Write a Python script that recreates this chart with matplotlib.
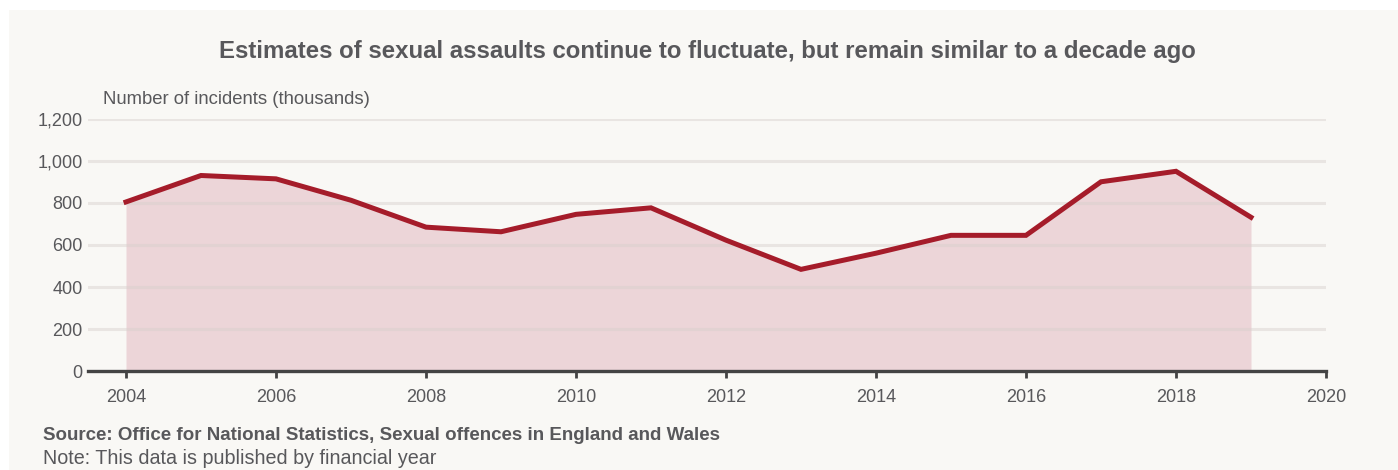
import matplotlib
matplotlib.use("Agg")
import matplotlib.pyplot as plt
from matplotlib.patches import Rectangle

# Sexual assault estimates, England and Wales (thousands), by financial year
years = [2004, 2005, 2006, 2007, 2008, 2009, 2010, 2011,
         2012, 2013, 2014, 2015, 2016, 2017, 2018, 2019]
incidents = [805, 931, 915, 813, 685, 663, 746, 777,
             623, 484, 561, 646, 646, 901, 951, 732]
yticks = [0, 200, 400, 600, 800, 1000, 1200]
xticks = [2004, 2006, 2008, 2010, 2012, 2014, 2016, 2018, 2020]

plt.rcParams['font.family'] = ['Liberation Sans', 'DejaVu Sans']
text_col = "#58585b"
line_col = "#a51c2a"
bg = "#f9f8f5"

fig = plt.figure(figsize=(13.98, 4.70), dpi=100, facecolor="white")
# off-white panel behind everything
fig.patches.append(Rectangle((9 / 1398, 0), 1 - 9 / 1398, 1 - 10 / 470,
                             transform=fig.transFigure, facecolor=bg,
                             edgecolor="none", zorder=-10))

# axes box in pixel coords: x 88..1326, y 119..371 (top-down)
W, H = 1398, 470
ax = fig.add_axes([88 / W, 1 - 371 / H, (1326 - 88) / W, (371 - 119) / H])
ax.set_facecolor("none")

ax.fill_between(years, incidents, 0, color="#ecd5d8", lw=0, zorder=1)
ax.plot(years, incidents, color=line_col, lw=3.6, solid_joinstyle="miter",
        zorder=3)

ax.set_xlim(2004 - 38 / 75, 2020)
ax.set_ylim(0, 1200)
ax.set_yticks(yticks)
ax.set_yticklabels([f"{v:,}" for v in yticks])
ax.set_xticks(xticks)
ax.set_xticklabels([str(v) for v in xticks])

for v in yticks[1:]:
    ax.axhline(v, color="#d6cfcc", alpha=0.45, lw=2.2, zorder=2)
ax.axhline(0, color="#444444", lw=2.4, zorder=4, clip_on=False)

for s in ax.spines.values():
    s.set_visible(False)
ax.tick_params(axis="y", length=0, pad=4, labelsize=13, labelcolor=text_col)
ax.tick_params(axis="x", length=5, width=2, color="#444444", direction="out",
               pad=8, labelsize=13, labelcolor=text_col)

fig.text(707 / W, 1 - 52 / H, "Estimates of sexual assaults continue to fluctuate, but remain similar to a decade ago",
         ha="center", va="center", fontsize=17.3, fontweight="bold", color=text_col)
fig.text(103 / W, 1 - 100 / H, "Number of incidents (thousands)",
         ha="left", va="center", fontsize=13.3, color=text_col)
fig.text(43 / W, 1 - 436 / H, "Source: Office for National Statistics, Sexual offences in England and Wales",
         ha="left", va="center", fontsize=13.5, fontweight="bold", color=text_col)
fig.text(43 / W, 1 - 459 / H, "Note: This data is published by financial year",
         ha="left", va="center", fontsize=14.2, color=text_col)

fig.savefig("out.png", dpi=100, facecolor="white")
